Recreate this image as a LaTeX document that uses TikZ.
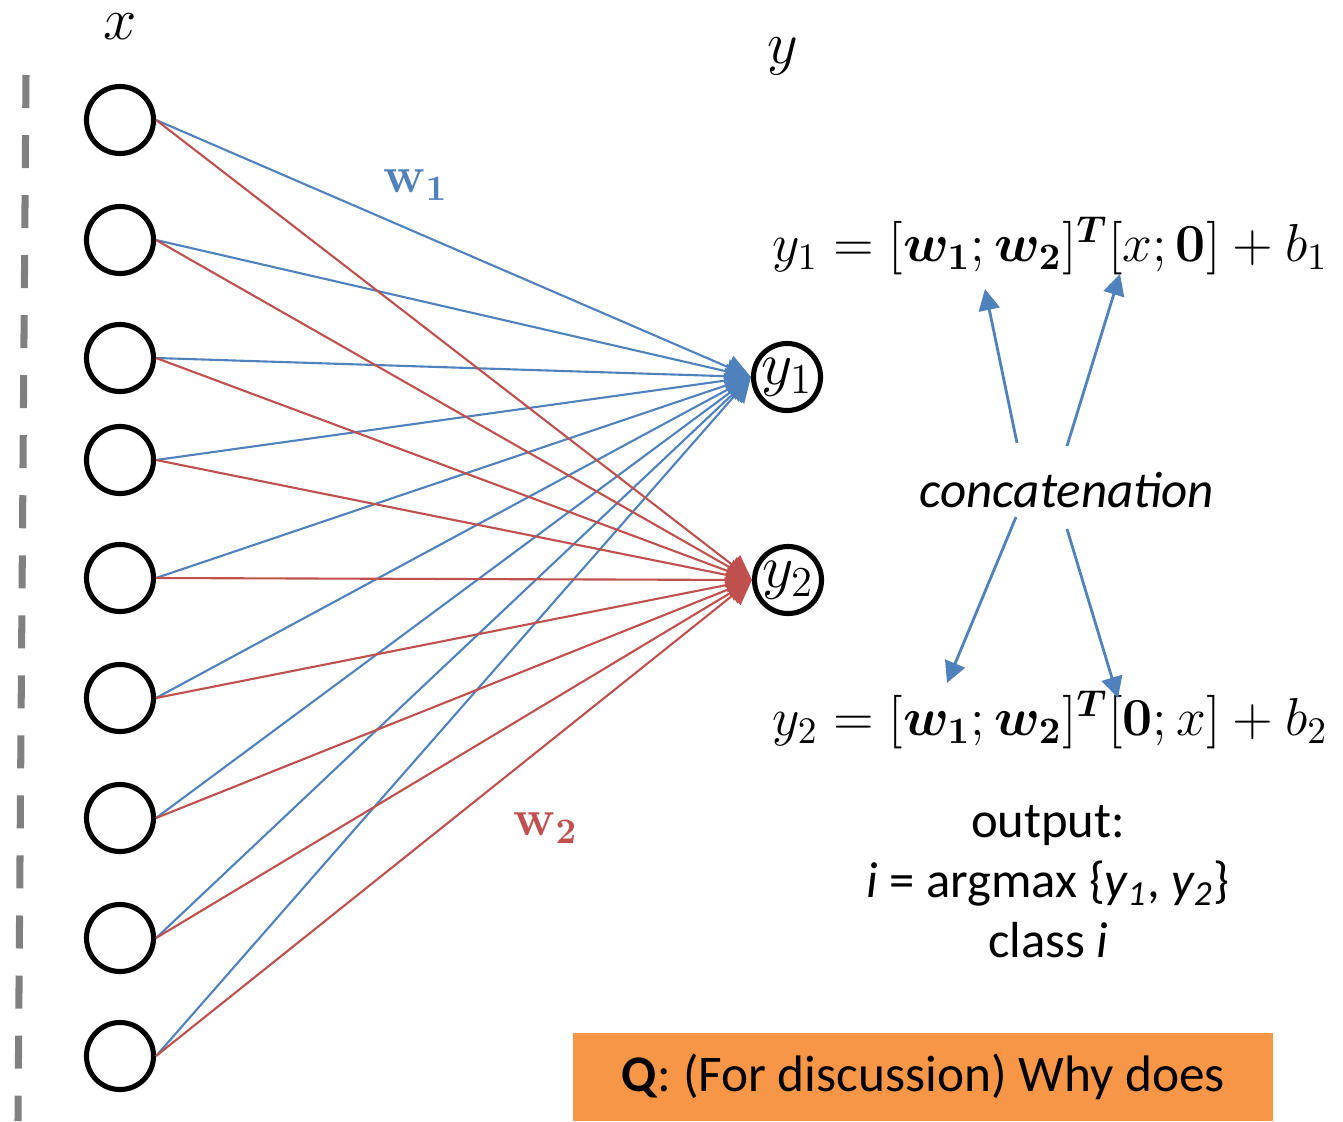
\RequirePackage{fix-cm}
\documentclass[tikz,border=0pt]{standalone}
\usepackage{amsmath,bm}
\usepackage[no-math]{fontspec}
\setmainfont{Carlito}
\usetikzlibrary{arrows.meta}
\definecolor{NetBlue}  {HTML}{4F81BD}
\definecolor{NetRed}   {HTML}{C0504D}
\definecolor{QOrange}  {HTML}{F79646}
\definecolor{DashGrey} {HTML}{808080}

\begin{document}
\begin{tikzpicture}[x=0.01cm, y=-0.01cm,
  unit/.style={circle, draw=black, line width=1.45pt, minimum size=0.67cm, inner sep=0pt},
  wire/.style={line width=0.6pt, -{Triangle[length=7pt,width=7pt]}},
  concatarrow/.style={NetBlue, line width=0.8pt, -{Triangle[length=6pt,width=6pt]}},
  eqfont/.style={font=\fontsize{15.2}{18}\selectfont},
  varfont/.style={font=\fontsize{17}{19}\selectfont, inner sep=0pt}]

  \useasboundingbox (0,0) rectangle (1343,1121);

  % ===== LEFT DASHED BORDER =====
  \draw[DashGrey, line width=2pt, dash pattern=on 0.33cm off 0.27cm] (26,75) -- (18,1121);

  % ===== INPUT LAYER x =====
  \node[varfont, anchor=base] (xlab) at (120,39) {$x$};
  \foreach \i/\yy in {1/120,2/240,3/358,4/460,5/578,6/698,7/818,8/938,9/1056}{
    \node[unit] (in\i) at (120,\yy) {};
  }

  % ===== OUTPUT LAYER y =====
  \node[varfont, anchor=base] (ylab) at (783,63) {$y$};
  \node[unit, font=\fontsize{17.3}{20}\selectfont] (y1) at (787,377) {$y_1$};
  \node[unit, font=\fontsize{17.3}{20}\selectfont] (y2) at (788,580) {$y_2$};

  % ===== WEIGHTS =====
  \foreach \i in {1,...,9}{
    \draw[wire, NetBlue] (in\i.east) -- (y1.west);
  }
  \foreach \i in {1,...,9}{
    \draw[wire, NetRed] (in\i.east) -- (y2.west);
  }
  \node[text=NetBlue, font=\fontsize{14.6}{18}\selectfont] (w1lab) at (416,185) {$\mathbf{w_1}$};
  \node[text=NetRed, font=\fontsize{14.6}{18}\selectfont] (w2lab) at (546,828) {$\mathbf{w_2}$};

  % ===== EQUATIONS =====
  \node[eqfont] (eq1) at (1050,246)
    {$y_1 = [\bm{w}_{\mathbf{1}};\bm{w}_{\mathbf{2}}]^{\bm{T}}[x;\mathbf{0}] + b_1$};
  \node[eqfont] (eq2) at (1050,720)
    {$y_2 = [\bm{w}_{\mathbf{1}};\bm{w}_{\mathbf{2}}]^{\bm{T}}[\mathbf{0};x] + b_2$};

  % ===== CONCATENATION =====
  \node[font=\fontsize{14.5}{17}\selectfont\itshape] (concat) at (1067,490) {concatenation};
  \coordinate (cUL) at (1017,443);
  \coordinate (cUR) at (1067,446);
  \coordinate (cLL) at (1016,517);
  \coordinate (cLR) at (1067,529);
  \coordinate (tW) at (985,289);
  \coordinate (tX) at (1120,274);
  \coordinate (bW) at (947,683);
  \coordinate (bZ) at (1118,698);
  \draw[concatarrow] (cUL) -- (tW);
  \draw[concatarrow] (cUR) -- (tX);
  \draw[concatarrow] (cLL) -- (bW);
  \draw[concatarrow] (cLR) -- (bZ);

  % ===== OUTPUT RULE =====
  \node[align=center, font=\fontsize{14.4}{17.1}\selectfont] (outtxt) at (1048,882)
    {output:\\ \textit{i} = argmax \{\textit{y\textsubscript{1}}, \textit{y\textsubscript{2}}\}\\ class \textit{i}};

  % ===== QUESTION BOX =====
  \fill[QOrange] (573,1033) rectangle (1273,1121);
  \node[font=\fontsize{14.6}{18}\selectfont] (qtxt) at (923,1077)
    {\textbf{Q}: (For discussion) Why does};

\end{tikzpicture}
\end{document}
